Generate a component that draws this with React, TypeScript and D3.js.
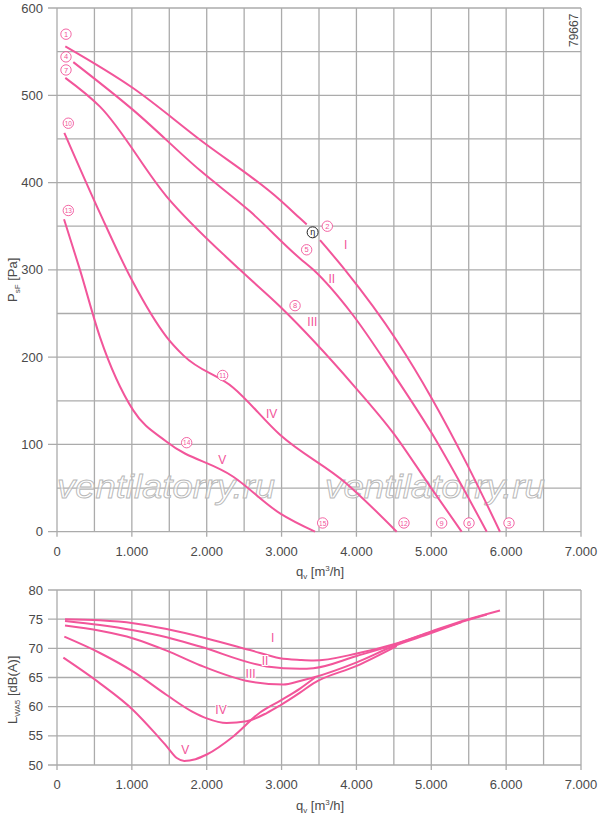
import * as d3 from "d3";

// flow q [m3/h] vs static pressure p [Pa]
const pressureI = [
  [111, 556], [1019, 508], [1910, 449], [2979, 380], [3246, 359], [3335, 352],
  [3513, 334], [3847, 300], [4538, 219], [5005, 153], [5473, 78], [5918, 0],
];
const pressureII = [
  [218, 538], [1019, 483], [1910, 414], [2578, 367], [3246, 313], [3425, 300],
  [3937, 250], [4493, 181], [5005, 113], [5741, 0],
];
const pressureIII = [
  [111, 520], [574, 487], [1465, 384], [2445, 300], [2979, 258], [3958, 168],
  [4493, 113], [4983, 52], [5406, 0],
];
const pressureIV = [
  [98, 457], [574, 365], [1002, 288], [1465, 223], [1688, 202], [2355, 165],
  [2979, 111], [3869, 55], [4538, 0],
];
const pressureV = [
  [94, 358], [307, 300], [574, 223], [1019, 139], [1465, 103], [2355, 63],
  [2979, 21], [3447, 0],
];
// the curve I is broken where the efficiency mark sits
const gapI = [3340, 3500];

// flow q vs sound power L_WA5 [dB(A)]
const soundI = [
  [107, 75.0], [574, 74.8], [1019, 74.3], [1465, 73.3], [2000, 71.7], [2578, 69.7],
  [2979, 68.3], [3246, 68.0], [3425, 67.9], [4004, 69.1], [4500, 70.7], [5000, 72.9],
  [5473, 74.9], [5918, 76.5],
];
const soundII = [
  [107, 74.7], [574, 74.0], [1019, 73.1], [1465, 71.9], [1910, 70.3], [2801, 66.9],
  [3246, 66.5], [3425, 66.6], [4004, 68.7], [4500, 70.6], [5000, 72.8], [5400, 74.5], [5741, 75.8],
];
const soundIII = [
  [107, 73.9], [574, 73.0], [1019, 71.7], [1465, 69.6], [1910, 67.1], [2578, 64.3],
  [3024, 63.8], [3246, 64.4], [3425, 65.0], [4004, 67.6], [4500, 70.4], [5000, 72.6], [5406, 74.5],
];
const soundIV = [
  [98, 72.0], [574, 69.2], [1019, 66.0], [1465, 62.0], [1800, 59.2], [2000, 58.0],
  [2266, 57.2], [2533, 57.5], [2801, 58.9], [2979, 60.2], [3246, 62.4], [3425, 64.0],
  [4004, 67.0], [4538, 70.4],
];
const soundV = [
  [85, 68.4], [574, 64.0], [1019, 59.4], [1300, 55.6], [1465, 53.2], [1600, 51.2],
  [1700, 50.7], [1850, 51.0], [2000, 51.8], [2355, 54.9], [2712, 59.0], [2979, 61.0],
  [3246, 63.1], [3447, 65.0],
];

// circled operating point numbers [label, q, p]
const pointLabels: [number, number, number][] = [
  [1, 120, 570], [4, 120, 544], [7, 120, 529], [10, 151, 468], [13, 151, 368],
  [2, 3611, 350], [5, 3335, 323], [8, 3180, 259], [11, 2213, 179], [14, 1732, 102],
  [15, 3549, 10], [12, 4635, 10], [9, 5139, 10], [6, 5504, 10], [3, 6038, 10],
];
const etaMark = [3415, 343];
const romanNames = ["I", "II", "III", "IV", "V"];
const romanTop = [[3857, 328], [3670, 289], [3411, 240], [2868, 135], [2208, 82]];
const romanBottom = [[2881, 71.7], [2779, 67.9], [2586, 65.6], [2191, 59.5], [1712, 52.6]];

const qTicks = d3.range(0, 7001, 1000);
const qGrid = d3.range(0, 7001, 500);
const pTicks = d3.range(0, 601, 100);
const pGrid = d3.range(0, 601, 50);
const lTicks = d3.range(50, 81, 5);

const PINK = "#f2559a";
const GRID = "#ababab";
const TEXT = "#4a4a4a";
const FONT = "'Liberation Sans', Arial, sans-serif";

const fmt = d3.formatLocale({ decimal: ",", thousands: ".", grouping: [3], currency: ["", ""] }).format(",");

const x = d3.scaleLinear().domain([0, 7000]).range([57, 581]);
const yTop = d3.scaleLinear().domain([0, 600]).range([531.7, 8]);
const yBot = d3.scaleLinear().domain([50, 80]).range([765, 590]);

export default function App() {
  const lineTop = d3
    .line<number[]>()
    .x((d) => x(d[0]))
    .y((d) => yTop(d[1]))
    .curve(d3.curveMonotoneX);
  const lineBot = d3
    .line<number[]>()
    .x((d) => x(d[0]))
    .y((d) => yBot(d[1]))
    .curve(d3.curveMonotoneX);

  const topSegments = [
    pressureI.filter((d) => d[0] <= gapI[0]),
    pressureI.filter((d) => d[0] >= gapI[1]),
    pressureII,
    pressureIII,
    pressureIV,
    pressureV,
  ];
  const bottomCurves = [soundI, soundII, soundIII, soundIV, soundV];

  const grid = (y: d3.ScaleLinear<number, number>, rows: number[], labelled: number[], key: string) => (
    <g key={key}>
      {qGrid.map((q) => (
        <line key={"v" + q} x1={x(q)} x2={x(q)} y1={y.range()[1]} y2={y.range()[0] + (q % 1000 === 0 ? 5 : 0)}
          stroke={GRID} strokeWidth={1.3} />
      ))}
      {rows.map((v) => (
        <line key={"h" + v} x1={labelled.includes(v) ? 48 : x(0)} x2={x(7000)} y1={y(v)} y2={y(v)}
          stroke={GRID} strokeWidth={1.3} />
      ))}
      {labelled.map((v) => (
        <text key={"l" + v} x={43} y={y(v) + 4.5} textAnchor="end" fontSize={13} fill={TEXT}>{v}</text>
      ))}
      {qTicks.map((q) => (
        <text key={"x" + q} x={x(q)} y={y.range()[0] + 24} textAnchor="middle" fontSize={13} fill={TEXT}>
          {fmt(q)}
        </text>
      ))}
    </g>
  );

  const qTitle = (y: number) => (
    <text x={296} y={y} fontSize={13} fill={TEXT}>
      q<tspan fontSize={8} dy={3}>v</tspan>
      <tspan dy={-3}> [m</tspan>
      <tspan fontSize={8} dy={-5}>3</tspan>
      <tspan dy={5}>/h]</tspan>
    </text>
  );

  return (
    <svg width={600} height={816} style={{ position: "absolute", left: 0, top: 0, background: "#fff" }}
      fontFamily={FONT}>
      {grid(yTop, pGrid, pTicks, "gt")}
      {grid(yBot, lTicks, lTicks, "gb")}

      {/* watermark */}
      {[[57, 218], [325, 220]].map(([x0, w]) => (
        <text key={x0} x={x0} y={498} fontSize={34} fontStyle="italic" textLength={w}
          lengthAdjust="spacingAndGlyphs" fill="#ffffff" fillOpacity={0.55} stroke="#b8b8b8" strokeWidth={0.9}>
          ventilatorry.ru
        </text>
      ))}

      {/* axis titles */}
      <text transform="translate(17,302) rotate(-90)" fontSize={13} fill={TEXT}>
        P<tspan fontSize={8} dy={3}>sF</tspan>
        <tspan dy={-3}> [Pa]</tspan>
      </text>
      <text transform="translate(17,724) rotate(-90)" fontSize={13} fill={TEXT}>
        L<tspan fontSize={8} dy={3}>WA5</tspan>
        <tspan dy={-3}> [dB(A)]</tspan>
      </text>
      {qTitle(576)}
      {qTitle(810)}
      <text transform="translate(578,47) rotate(-90)" fontSize={12} fill={TEXT}>79667</text>

      {/* curves */}
      {topSegments.map((s, i) => (
        <path key={"t" + i} d={lineTop(s) ?? ""} fill="none" stroke={PINK} strokeWidth={2} />
      ))}
      {bottomCurves.map((s, i) => (
        <path key={"b" + i} d={lineBot(s) ?? ""} fill="none" stroke={PINK} strokeWidth={2} />
      ))}

      {/* labels */}
      {pointLabels.map(([n, q, p]) => (
        <g key={"c" + n} transform={`translate(${x(q)},${yTop(p)})`}>
          <circle r={5.2} fill="#fff" stroke={PINK} strokeWidth={0.9} />
          <text y={2.6} textAnchor="middle" fontSize={n > 9 ? 6.5 : 7.5} fill={PINK}>{n}</text>
        </g>
      ))}
      <g transform={`translate(${x(etaMark[0])},${yTop(etaMark[1])})`}>
        <circle r={5.5} fill="#fff" stroke="#222" strokeWidth={1} />
        <text y={2.5} textAnchor="middle" fontSize={9} fill="#222">η</text>
      </g>
      {romanTop.map(([q, p], i) => (
        <text key={"rt" + i} x={x(q)} y={yTop(p) + 4} textAnchor="middle" fontSize={12} fill={PINK}>
          {romanNames[i]}
        </text>
      ))}
      {romanBottom.map(([q, l], i) => (
        <text key={"rb" + i} x={x(q)} y={yBot(l) + 4} textAnchor="middle" fontSize={12} fill={PINK}
          stroke="#fff" strokeWidth={2} paintOrder="stroke">
          {romanNames[i]}
        </text>
      ))}
    </svg>
  );
}
